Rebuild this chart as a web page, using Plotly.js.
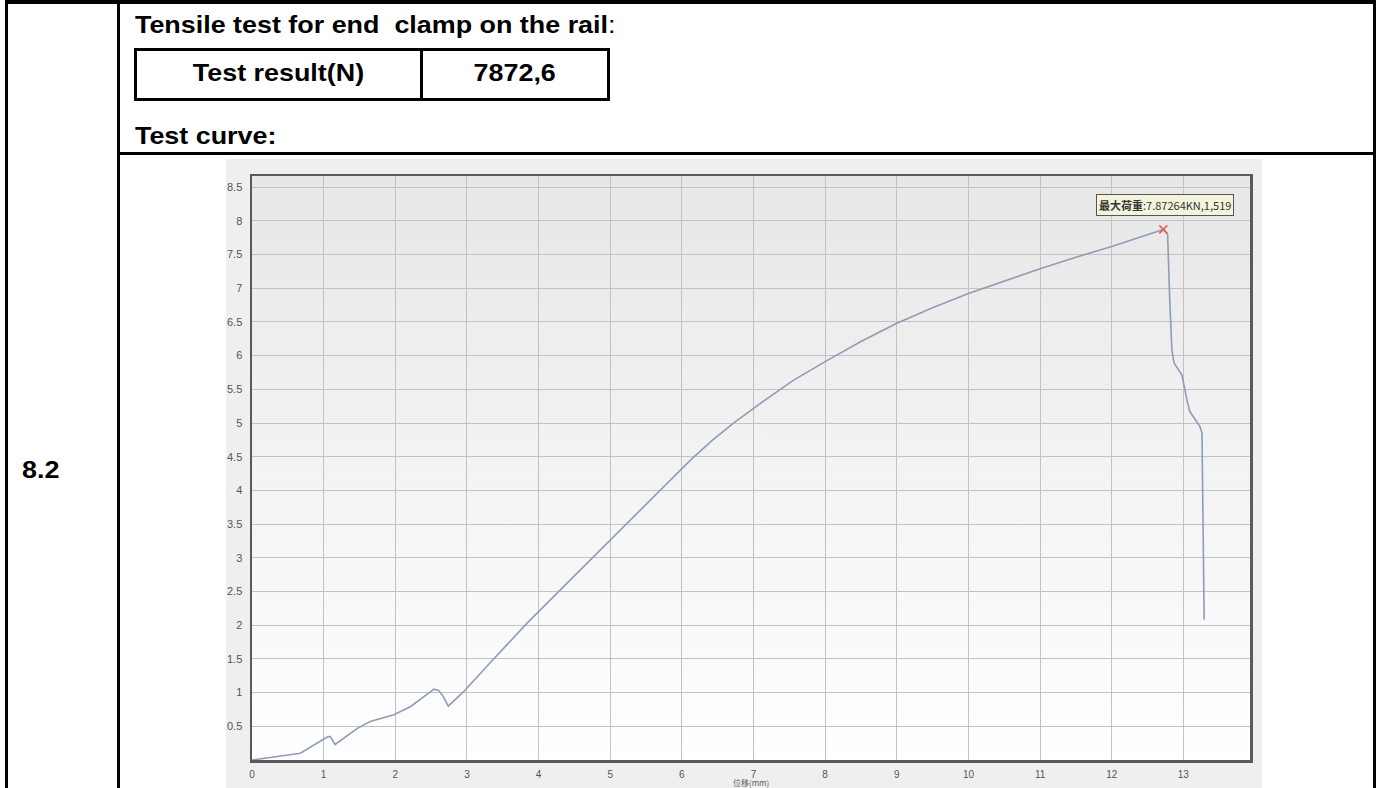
<!DOCTYPE html>
<html>
<head>
<meta charset="utf-8">
<script src="https://cdn.plot.ly/plotly-3.0.1.min.js"></script>
<style>
  html, body { margin:0; padding:0; background:#ffffff; }
  body { width:1378px; height:788px; overflow:hidden; position:relative; }
  .ln { position:absolute; background:#000; }
  .tx { position:absolute; font-family:"Liberation Sans", Arial, sans-serif; font-weight:bold; font-size:24px; line-height:24px; color:#000; white-space:pre; }
  .sx { display:inline-block; transform:scaleX(1.12); }
  .sxl { transform-origin:left center; }
  .sxc { transform-origin:center center; }
  #imgbox { position:absolute; left:226px; top:159px; width:1036px; height:629px; background:#efefef; overflow:hidden; }
  #plotbg { position:absolute; left:26px; top:17px; width:998px; height:584px; background:linear-gradient(#e7e7e7, #ffffff); }
  #chart { position:absolute; left:0; top:0; width:1036px; height:629px; }
</style>
</head>
<body>
<!-- document table lines -->
<div class="ln" style="left:5px;top:0;width:1371px;height:4px;"></div>
<div class="ln" style="left:5px;top:0;width:3px;height:788px;"></div>
<div class="ln" style="left:117px;top:0;width:3px;height:788px;"></div>
<div class="ln" style="left:1373px;top:0;width:3px;height:788px;"></div>
<div class="ln" style="left:117px;top:152px;width:1259px;height:3px;"></div>
<!-- inner result table -->
<div style="position:absolute;left:134px;top:48px;width:476px;height:53px;border:3px solid #000;box-sizing:border-box;"></div>
<div class="ln" style="left:420px;top:48px;width:3px;height:53px;"></div>

<div class="tx" style="left:135px;top:13px;"><span class="sx sxl">Tensile test for end  clamp on the rail<span style="font-weight:normal">:</span></span></div>
<div class="tx" style="left:137px;top:61px;width:283px;text-align:center;"><span class="sx sxc">Test result(N)</span></div>
<div class="tx" style="left:423px;top:61px;width:184px;text-align:center;"><span class="sx sxc">7872,6</span></div>
<div class="tx" style="left:135px;top:124px;"><span class="sx sxl">Test curve:</span></div>
<div class="tx" style="left:22px;top:458px;"><span class="sx sxl">8.2</span></div>

<div id="imgbox">
  <div id="plotbg"></div>
  <div id="chart"></div>
</div>

<script>
// displacement (mm) and load (kN)
const dispMm = [0, 0.26, 0.675, 1.05, 1.09, 1.16, 1.47, 1.65, 1.98, 2.21, 2.54, 2.61, 2.67, 2.74, 2.95, 3.33, 3.84, 4.30, 4.77, 5.19, 5.65, 6.12, 6.42, 6.72, 7.16, 7.37, 7.55, 8.0, 8.5, 9.0, 9.5, 10.0, 10.5, 11.0, 11.5, 12.0, 12.72, 12.78, 12.81, 12.84, 12.87, 12.98, 13.05, 13.09, 13.23, 13.26, 13.29];
const loadKN = [0, 0.04, 0.10, 0.34, 0.35, 0.23, 0.47, 0.57, 0.67, 0.79, 1.05, 1.03, 0.94, 0.80, 1.01, 1.45, 2.03, 2.52, 3.02, 3.46, 3.96, 4.45, 4.74, 5.00, 5.34, 5.49, 5.63, 5.91, 6.21, 6.48, 6.71, 6.92, 7.11, 7.29, 7.46, 7.62, 7.87264, 7.80, 6.82, 6.08, 5.89, 5.71, 5.34, 5.17, 4.95, 4.85, 2.08];

const peakX = [12.72];
const peakY = [7.87264];
const peakLabel = "<b>最大荷重</b>:7.87264KN,1,519";

const xTickVals = [0,1,2,3,4,5,6,7,8,9,10,11,12,13];
const xTickText = ["0","1","2","3","4","5","6","7","8","9","10","11","12","13"];
const yTickVals = [0.5,1,1.5,2,2.5,3,3.5,4,4.5,5,5.5,6,6.5,7,7.5,8,8.5];
const yTickText = ["0.5","1","1.5","2","2.5","3","3.5","4","4.5","5","5.5","6","6.5","7","7.5","8","8.5"];
const xTitle = "位移(mm)";

const tickFont = {family:"Liberation Sans, Arial, sans-serif", size:11, color:"#555555"};
const xTickFont = {family:"Liberation Sans, Arial, sans-serif", size:10, color:"#555555"};

const traces = [
  {x: dispMm, y: loadKN, type:"scatter", mode:"lines",
   line:{color:"#8d9db5", width:1.6}, hoverinfo:"skip"},
  {x: peakX, y: peakY, type:"scatter", mode:"markers",
   marker:{symbol:"x-thin", size:8, line:{color:"#e05a5a", width:1.5}, color:"#e05a5a"}, hoverinfo:"skip"}
];

const layout = {
  width:1036, height:629,
  margin:{l:26, r:12, t:17, b:28},
  paper_bgcolor:"rgba(0,0,0,0)",
  plot_bgcolor:"rgba(0,0,0,0)",
  showlegend:false,
  xaxis:{
    range:[0, 13.93], tickvals:xTickVals, ticktext:xTickText,
    showgrid:true, gridcolor:"#c2c2c2", gridwidth:1,
    zeroline:false, showline:true, linecolor:"#5a5a5a", linewidth:2.5, mirror:true,
    ticks:"", ticklabelstandoff:3, tickfont:xTickFont
  },
  yaxis:{
    range:[0, 8.665], tickvals:yTickVals, ticktext:yTickText,
    showgrid:true, gridcolor:"#c2c2c2", gridwidth:1,
    zeroline:false, showline:true, linecolor:"#5a5a5a", linewidth:2.5, mirror:true,
    ticks:"", ticklabelstandoff:5, tickfont:tickFont
  },
  annotations:[{
    x: peakX[0], y: peakY[0], xref:"x", yref:"y",
    text: peakLabel, showarrow:false,
    xanchor:"center", yanchor:"bottom", xshift:2, yshift:13,
    font:{family:"Noto Sans CJK SC, Liberation Sans, sans-serif", size:11, color:"#333"},
    bgcolor:"#f4f3dc", bordercolor:"#555555", borderwidth:1, borderpad:2
  }, {
    // x-axis title just under the tick labels, at the picture's bottom edge as in the reference
    x: 0.5, y: 0, xref:"paper", yref:"paper",
    text: xTitle, showarrow:false,
    xanchor:"center", yanchor:"top", yshift:-16, borderpad:0,
    font:{family:"Noto Sans CJK SC, sans-serif", size:8, color:"#5a5a5a"}
  }]
};

Plotly.newPlot("chart", traces, layout, {displayModeBar:false, staticPlot:true});
</script>
</body>
</html>
